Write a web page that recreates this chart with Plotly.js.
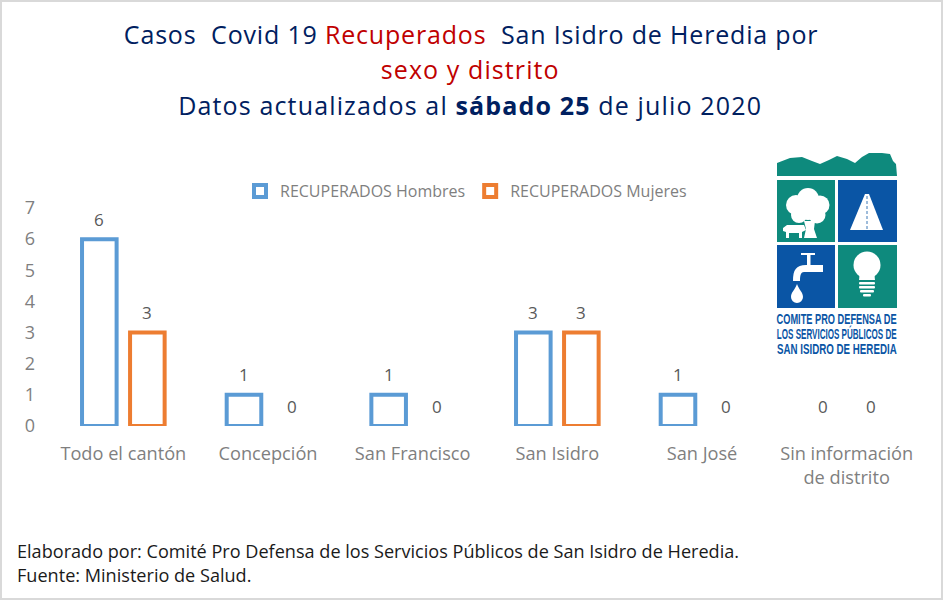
<!DOCTYPE html>
<html>
<head>
<meta charset="utf-8">
<script src="https://cdn.plot.ly/plotly-3.0.1.min.js"></script>
<style>
html,body{margin:0;padding:0;background:#fff}
#grafico{width:943px;height:600px}
g.annotation[data-index="0"] text{letter-spacing:.82px}
g.annotation[data-index="1"] text{letter-spacing:1.1px}
g.annotation[data-index="2"] text{letter-spacing:1.15px}
g.annotation[data-index="17"] text,
g.annotation[data-index="18"] text,
g.annotation[data-index="19"] text{transform-box:fill-box;transform-origin:center}
g.annotation[data-index="17"] text{transform:scale(.71,1.08)}
g.annotation[data-index="18"] text{transform:scale(.62,1.08)}
g.annotation[data-index="19"] text{transform:scale(.75,1.08)}
</style>
</head>
<body>
<div id="grafico"></div>
<script>
var distritos = ["Todo el cantón", "Concepción", "San Francisco", "San Isidro", "San José", "Sin información<br>de distrito"];
var hombres = [6, 1, 1, 3, 1, 0];
var mujeres = [3, 0, 0, 3, 0, 0];
var nombreHombres = "RECUPERADOS Hombres";
var nombreMujeres = "RECUPERADOS Mujeres";
var azul = "#5b9bd5";
var naranja = "#ed7d31";
var gris = "#7f7f7f";
var fuente = "Open Sans, Noto Sans, sans-serif";

// area de dibujo en pixeles de la pagina
var izq = 51, der = 919, arriba = 208, abajo = 426;

function serie(nombre, valores, color) {
    return {
        type: "bar",
        name: nombre,
        x: distritos,
        y: valores,
        cliponaxis: false,
        marker: {
            color: "#ffffff",
            line: { color: color, width: valores.map(function (v) { return v > 0 ? 4 : 0; }) }
        }
    };
}

function pagX(x) { return (x - izq) / (der - izq); }
function pagY(y) { return (abajo - y) / (abajo - arriba); }

var data = [serie(nombreHombres, hombres, azul), serie(nombreMujeres, mujeres, naranja)];

var layout = {
    width: 943,
    height: 600,
    paper_bgcolor: "#ffffff",
    plot_bgcolor: "#ffffff",
    showlegend: true,
    barmode: "group",
    bargap: 0.336,
    bargroupgap: 0.28,
    margin: { l: izq, r: 943 - der, t: arriba, b: 600 - abajo },
    font: { family: fuente, color: gris, size: 16 },
    legend: {
        orientation: "h",
        x: pagX(240), y: pagY(191),
        xanchor: "left", yanchor: "middle",
        font: { family: fuente, size: 16, color: gris },
        itemwidth: 30,
        traceorder: "normal"
    },
    xaxis: {
        showgrid: false, zeroline: false, showline: false, ticks: "",
        tickfont: { family: fuente, size: 18.2, color: gris },
        ticklabelstandoff: 15,
        automargin: false
    },
    yaxis: {
        range: [0, 7], dtick: 1, showgrid: false, zeroline: false, showline: false,
        tickfont: { family: fuente, size: 18, color: gris },
        ticks: "", ticklabelstandoff: 15, automargin: false
    },
    annotations: [],
    shapes: [
        { type: "rect", xref: "paper", yref: "paper", layer: "above",
          x0: pagX(1), x1: pagX(942), y0: pagY(599), y1: pagY(1),
          line: { width: 2, color: "#d9d9d9" }, fillcolor: "rgba(0,0,0,0)" }
    ],
    images: []
};

function notaPagina(texto, x, y, tam, color, ancla) {
    layout.annotations.push({
        xref: "paper", yref: "paper",
        x: pagX(x), y: pagY(y),
        xanchor: ancla, yanchor: "middle",
        showarrow: false, text: texto,
        font: { family: fuente, size: tam, color: color }
    });
}

notaPagina('Casos  Covid 19 <span style="color:#c00000">Recuperados</span>  San Isidro de Heredia por', 471, 34, 25, "#002060", "center");
notaPagina('<span style="color:#c00000">sexo y distrito</span>', 470, 69, 25, "#002060", "center");
notaPagina('Datos actualizados al <b>sábado 25</b> de julio 2020', 470, 105, 25, "#002060", "center");
notaPagina('Elaborado por: Comité Pro Defensa de los Servicios Públicos de San Isidro de Heredia.', 15, 551, 18.1, "#1a1a1a", "left");
notaPagina('Fuente: Ministerio de Salud.', 15, 575, 18.1, "#1a1a1a", "left");

// etiquetas de valor
function etiquetas(valores, desplazamiento) {
    valores.forEach(function (v, i) {
        layout.annotations.push({
            xref: "x", yref: "y", x: distritos[i], y: v,
            xshift: desplazamiento, yshift: 20,
            yanchor: "middle", showarrow: false, text: String(v),
            font: { family: fuente, size: 17, color: "#595959" }
        });
    });
}
etiquetas(hombres, -24);
etiquetas(mujeres, 24);

// logo
var verde = "#0e8a7d", azulLogo = "#0a55a5";
var logo = '<svg xmlns="http://www.w3.org/2000/svg" viewBox="0 0 120 156" width="480" height="624">' +
    '<path fill="' + verde + '" d="M0 10L13 5L25 4L35 8L43 11L52 7L60 3L70 6L78 10L85 4L92 0L105 0L113 1L116 8L119 11L120 23L0 23Z"/>' +
    '<rect x="0" y="27" width="58" height="62" fill="' + verde + '"/>' +
    '<rect x="61" y="27" width="59" height="62" fill="' + azulLogo + '"/>' +
    '<rect x="0" y="92" width="58" height="63" fill="' + azulLogo + '"/>' +
    '<rect x="61" y="92" width="59" height="63" fill="' + verde + '"/>' +
    '<g fill="#fff">' +
    '<circle cx="31" cy="46" r="11"/><circle cx="19" cy="52" r="10"/><circle cx="43" cy="52" r="9.5"/><circle cx="22" cy="62" r="8"/><circle cx="40" cy="62" r="8.5"/><circle cx="31" cy="55" r="12"/>' +
    '<path d="M27 68H38L37 76L40 85H27L29 76Z"/>' +
    '<path d="M6 75L10 72H24L27 72L29 77L25 79V85H22V80H12V85H9V79L6 78Z"/>' +
    '<path d="M88 41H92L106 77H73Z"/>' +
    '<path d="M24 100H38V102H33.5V112H46V119H27C24 119 23 122 23 128H16C16 117 19 112 29 112H30V102H24Z"/>' +
    '<path d="M20 131C22 137 26 139 26 144A6 6 0 0 1 14 144C14 139 18 137 20 131Z"/>' +
    '<circle cx="90" cy="112" r="13.5"/><path d="M83 118H97L98 127H82Z"/>' +
    '<rect x="82" y="129" width="16" height="2.5" rx="1"/><rect x="82" y="133" width="16" height="2.5" rx="1"/><rect x="83" y="137" width="14" height="2.5" rx="1"/><rect x="86" y="141" width="8" height="2.5" rx="1"/>' +
    '</g><g stroke="' + azulLogo + '" stroke-width="0.8" stroke-dasharray="3 2"><path d="M90 43V76"/></g></svg>';

layout.images.push({
    source: "data:image/svg+xml;charset=utf-8," + encodeURIComponent(logo),
    xref: "paper", yref: "paper",
    x: pagX(777), y: pagY(153),
    sizex: 120 / (der - izq), sizey: 156 / (abajo - arriba),
    xanchor: "left", yanchor: "top", sizing: "stretch", layer: "above"
});

function textoLogo(texto, y) {
    layout.annotations.push({
        xref: "paper", yref: "paper",
        x: pagX(837), y: pagY(y),
        xanchor: "center", yanchor: "middle",
        showarrow: false, text: "<b>" + texto + "</b>",
        font: { family: "Liberation Sans, sans-serif", size: 13, color: azulLogo }
    });
}
textoLogo("COMITE PRO DEFENSA DE", 319);
textoLogo("LOS SERVICIOS PÚBLICOS DE", 334);
textoLogo("SAN ISIDRO DE HEREDIA", 349);

Plotly.newPlot("grafico", data, layout, { displayModeBar: false });
</script>
</body>
</html>
